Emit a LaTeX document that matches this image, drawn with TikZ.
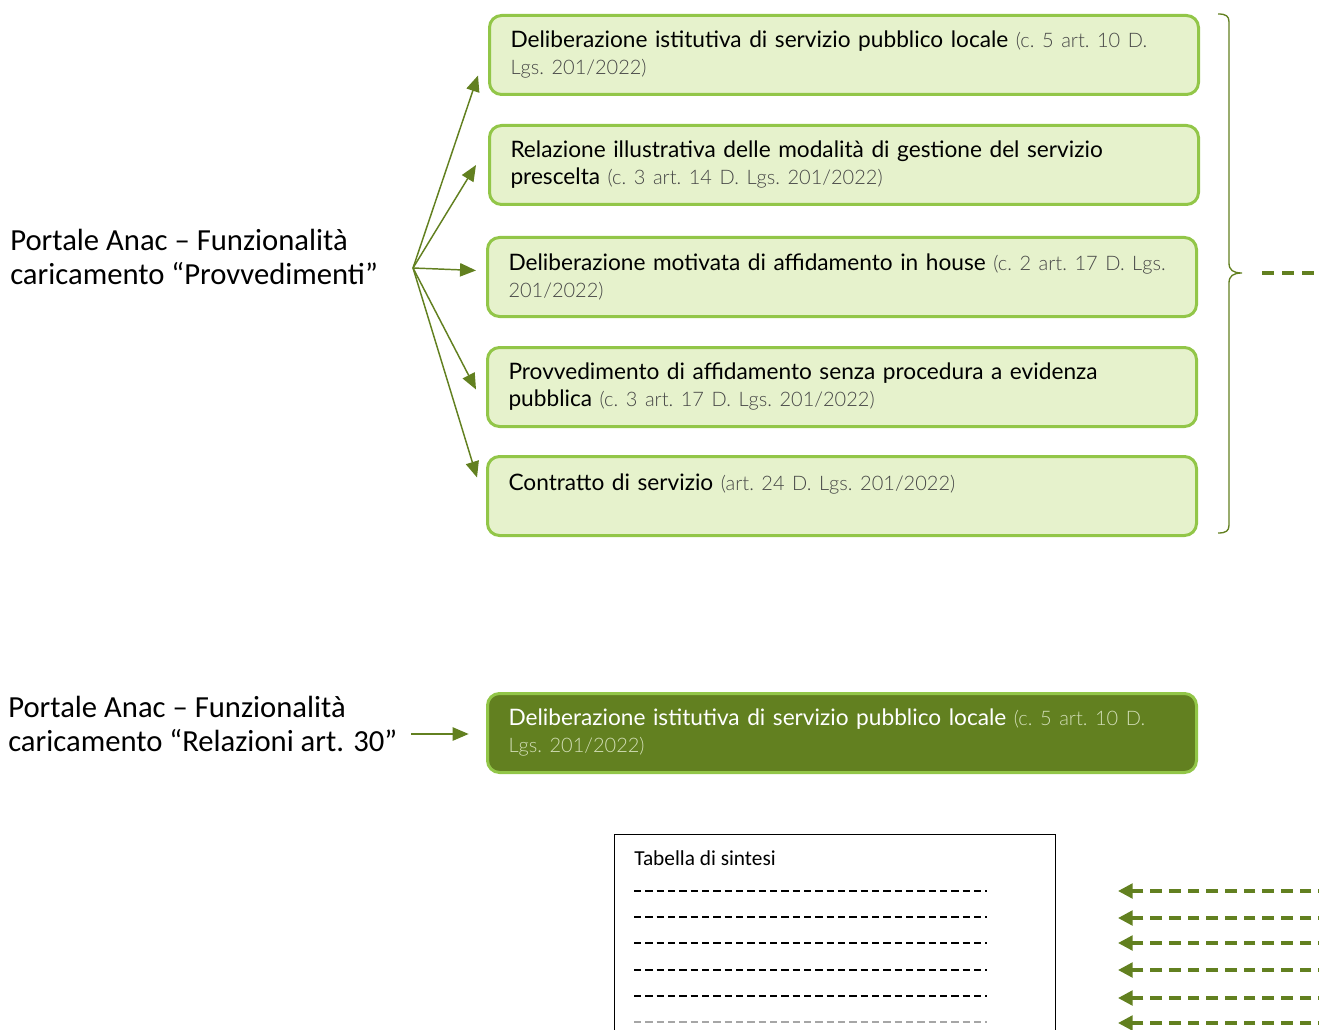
\documentclass[tikz,border=0pt]{standalone}
\usepackage{fontspec}
\setmainfont{Lato}
\newfontfamily\latolight{Lato Light}
\newfontfamily\calibri{Carlito}
\usetikzlibrary{arrows.meta}

\definecolor{olivegreen}{RGB}{98,128,32}
\definecolor{boxfill}{RGB}{230,242,204}
\definecolor{boxline}{RGB}{146,198,72}
\definecolor{normagray}{RGB}{70,70,70}
\definecolor{normapale}{RGB}{210,222,182}

\newcommand{\norma}[1]{{\latolight\fontsize{15}{20.25}\selectfont\color{normagray}#1}}
\newcommand{\normachiara}[1]{{\latolight\fontsize{15}{20.25}\selectfont\color{normapale}#1}}

\tikzset{
  actbox/.style={draw=boxline, line width=2.25pt, fill=boxfill, rounded corners=9pt,
    anchor=north west, minimum height=59.25pt, text width=500.25pt,
    inner xsep=15.75pt, inner ysep=0pt, align=left,
    font=\frenchspacing\fontsize{17}{20.25}\selectfont},
  darkbox/.style={actbox, fill=olivegreen, text=white},
  portale/.style={anchor=west, align=left, inner sep=0pt,
    font=\calibri\fontsize{23}{25.5}\selectfont},
  fanarrow/.style={olivegreen, line width=1.1pt, -{Triangle[length=12pt,width=10pt]}},
  dasharrow/.style={olivegreen, line width=2.5pt, dash pattern=on 8.75pt off 5.25pt,
    -{Triangle[length=11pt,width=11pt]}},
  tabdash/.style={black, line width=1.4pt, dash pattern=on 5.5pt off 3pt}
}

\begin{document}
\begin{tikzpicture}[x=0.75pt, y=-0.75pt]
\useasboundingbox (0,0) rectangle (1319,1030);
\clip (0,0) rectangle (1319,1030);

% labels on the left
\node[portale] (prov) at (10,257) {Portale Anac – Funzionalità\\caricamento “Provvedimenti”};
\node[portale] (rel) at (8,723.5) {Portale Anac – Funzionalità\\caricamento “Relazioni art. 30”};

% the five acts
\node[actbox] (b1) at (488,14) {Deliberazione istitutiva di servizio pubblico locale \norma{(c. 5 art. 10 D.}\\\norma{Lgs. 201/2022)}};
\node[actbox] (b2) at (488,124) {Relazione illustrativa delle modalità di gestione del servizio\\prescelta \norma{(c. 3 art. 14 D. Lgs. 201/2022)}};
\node[actbox] (b3) at (486,236) {Deliberazione motivata di affidamento in house \norma{(c. 2 art. 17 D. Lgs.}\\\norma{201/2022)}};
\node[actbox] (b4) at (486,346) {Provvedimento di affidamento senza procedura a evidenza\\pubblica \norma{(c. 3 art. 17 D. Lgs. 201/2022)}};
\node[actbox] (b5) at (486,455) {Contratto di servizio \norma{(art. 24 D. Lgs. 201/2022)}\\\mbox{}};

% fan of arrows
\coordinate (fan) at (413,268);
\foreach \b/\dx/\dy in {b1/-10/20.5, b2/-12/0, b3/-10/-6.5, b4/-10/2.5, b5/-9/-18.5}
  \draw[fanarrow] (fan) -- ([shift={(\dx,\dy)}]\b.west);

% brace and dashed link
\draw[olivegreen, line width=1pt]
  (1218,14) .. controls (1226,14) and (1229,16) .. (1229,22) -- (1229,263)
  .. controls (1229,270) and (1233,273) .. (1242,273)
  .. controls (1233,273) and (1229,276) .. (1229,283) -- (1229,525)
  .. controls (1229,531) and (1226,533) .. (1218,533);
\coordinate (d0) at (1262,273);
\coordinate (d1) at (1330,273);
\draw[olivegreen, line width=2.5pt, dash pattern=on 9pt off 6pt] (d0) -- (d1);

% relazione art. 30
\node[darkbox] (b6) at (486,692) {Deliberazione istitutiva di servizio pubblico locale \normachiara{(c. 5 art. 10 D.}\\\normachiara{Lgs. 201/2022)}};
\coordinate (a0) at (411,734);
\draw[fanarrow] (a0) -- ([xshift=-13pt]b6.west |- a0);

% tabella di sintesi
\node[draw=black, line width=0.9pt, anchor=north west, minimum width=330.75pt,
  minimum height=200pt, inner sep=0pt] (tab) at (614,834) {};
\node[anchor=west, inner sep=0pt, font=\calibri\fontsize{16}{18}\selectfont] (tabtitle)
  at (634,858) {Tabella di sintesi};
\foreach \y in {891,917,943,970,996}
  \draw[tabdash] (634,\y) -- (987,\y);
\draw[tabdash, gray!70] (634,1022) -- (987,1022);

% dashed arrows from the right
\foreach \y [count=\i] in {891,918,943,970,998,1023} {
  \coordinate (s\i) at (1330,\y);
  \coordinate (e\i) at (1118,\y);
  \draw[dasharrow] (s\i) -- (e\i);
}
\end{tikzpicture}
\end{document}
